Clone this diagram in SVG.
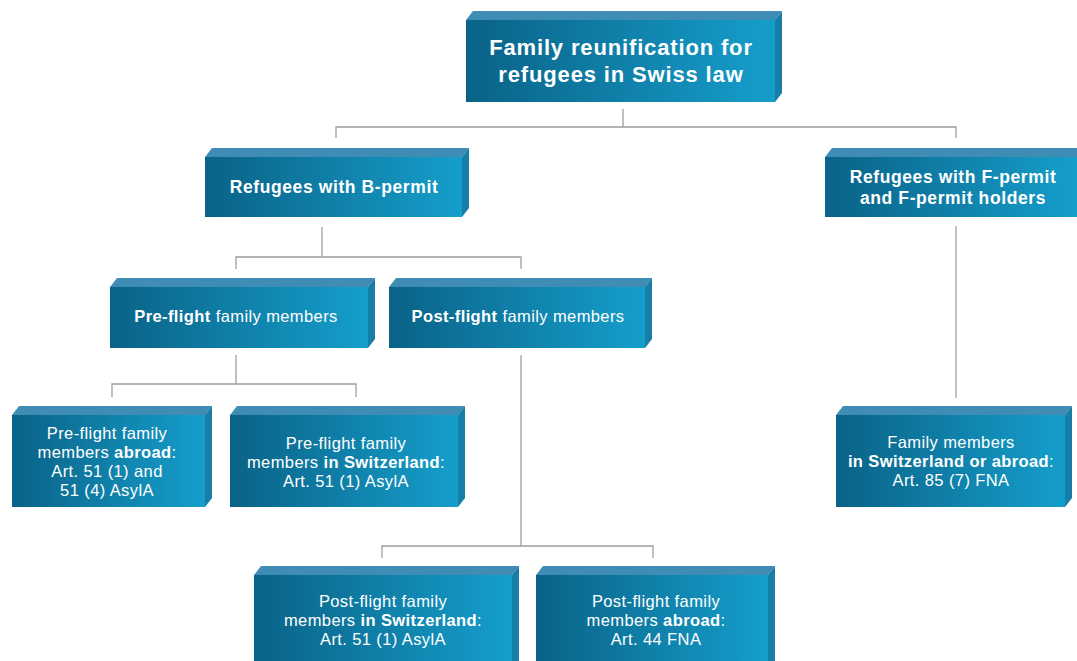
<svg xmlns="http://www.w3.org/2000/svg" width="1077" height="661" viewBox="0 0 1077 661">
<defs>
<linearGradient id="fg" x1="0" y1="0" x2="1" y2="0">
<stop offset="0" stop-color="#0a6287"/>
<stop offset="1" stop-color="#159ecb"/>
</linearGradient>
<style>
.front{fill:url(#fg)}
.top{fill:#3f8db4}
.side{fill:#177fa7}
.conn{stroke:#9b9ea3;stroke-width:1.3;fill:none}
text{font-family:"Liberation Sans",Arial,sans-serif;fill:#ffffff;text-anchor:middle}
.t1{font-size:22px;font-weight:700;letter-spacing:0.85px}
.t2{font-size:17.5px;font-weight:700;letter-spacing:0.6px}
.t3{font-size:16.5px;font-weight:400;letter-spacing:0.4px}
.b{font-weight:700}
</style>
</defs>
<rect width="1077" height="661" fill="#ffffff"/>
<g id="connectors">
<path class="conn" d="M623 109V127M336 138V127H956V138"/>
<path class="conn" d="M322 227V257M236 269V257H521V269"/>
<path class="conn" d="M956 226V398"/>
<path class="conn" d="M236 355V384M112 397V384H356V397"/>
<path class="conn" d="M521 355V546M382 558V546H653V558"/>
</g>
<g id="root">
<polygon class="top" points="466,20 473,11 782,11 775,20"/>
<polygon class="side" points="775,20 782,11 782,93 775,102"/>
<rect class="front" x="466" y="20" width="309" height="82"/>
<text class="t1" x="621" y="55">Family reunification for</text>
<text class="t1" x="621" y="82">refugees in Swiss law</text>
</g>
<g id="bpermit">
<polygon class="top" points="205,157 212,148 469,148 462,157"/>
<polygon class="side" points="462,157 469,148 469,208 462,217"/>
<rect class="front" x="205" y="157" width="257" height="60"/>
<text class="t2" x="334" y="193">Refugees with B-permit</text>
</g>
<g id="fpermit">
<polygon class="top" points="825,157 832,148 1077,148 1077,157"/>
<rect class="front" x="825" y="157" width="252" height="60"/>
<text class="t2" x="953" y="183">Refugees with F-permit</text>
<text class="t2" x="953" y="204">and F-permit holders</text>
</g>
<g id="preflight">
<polygon class="top" points="110,287 117,278 375,278 368,287"/>
<polygon class="side" points="368,287 375,278 375,339 368,348"/>
<rect class="front" x="110" y="287" width="258" height="61"/>
<text class="t3" x="236" y="322"><tspan class="b">Pre-flight</tspan> family members</text>
</g>
<g id="postflight">
<polygon class="top" points="389,287 396,278 652,278 645,287"/>
<polygon class="side" points="645,287 652,278 652,339 645,348"/>
<rect class="front" x="389" y="287" width="256" height="61"/>
<text class="t3" x="518" y="322"><tspan class="b">Post-flight</tspan> family members</text>
</g>
<g id="preabroad">
<polygon class="top" points="12,415 19,406 212,406 205,415"/>
<polygon class="side" points="205,415 212,406 212,498 205,507"/>
<rect class="front" x="12" y="415" width="193" height="92"/>
<text class="t3" x="107" y="439">Pre-flight family</text>
<text class="t3" x="107" y="458">members <tspan class="b">abroad</tspan>:</text>
<text class="t3" x="107" y="477">Art. 51 (1) and</text>
<text class="t3" x="107" y="496">51 (4) AsylA</text>
</g>
<g id="preswiss">
<polygon class="top" points="230,415 237,406 465,406 458,415"/>
<polygon class="side" points="458,415 465,406 465,498 458,507"/>
<rect class="front" x="230" y="415" width="228" height="92"/>
<text class="t3" x="346" y="449">Pre-flight family</text>
<text class="t3" x="346" y="468">members <tspan class="b">in Switzerland</tspan>:</text>
<text class="t3" x="346" y="487">Art. 51 (1) AsylA</text>
</g>
<g id="ffamily">
<polygon class="top" points="836,415 843,406 1072,406 1065,415"/>
<polygon class="side" points="1065,415 1072,406 1072,498 1065,507"/>
<rect class="front" x="836" y="415" width="229" height="92"/>
<text class="t3" x="951" y="448">Family members</text>
<text class="t3" x="951" y="467"><tspan class="b">in Switzerland or abroad</tspan>:</text>
<text class="t3" x="951" y="486">Art. 85 (7) FNA</text>
</g>
<g id="postswiss">
<polygon class="top" points="254,575 261,566 519,566 512,575"/>
<polygon class="side" points="512,575 519,566 519,661 512,661"/>
<rect class="front" x="254" y="575" width="258" height="86"/>
<text class="t3" x="383" y="607">Post-flight family</text>
<text class="t3" x="383" y="626">members <tspan class="b">in Switzerland</tspan>:</text>
<text class="t3" x="383" y="645">Art. 51 (1) AsylA</text>
</g>
<g id="postabroad">
<polygon class="top" points="536,575 543,566 775,566 768,575"/>
<polygon class="side" points="768,575 775,566 775,661 768,661"/>
<rect class="front" x="536" y="575" width="232" height="86"/>
<text class="t3" x="656" y="607">Post-flight family</text>
<text class="t3" x="656" y="626">members <tspan class="b">abroad</tspan>:</text>
<text class="t3" x="656" y="645">Art. 44 FNA</text>
</g>
</svg>
